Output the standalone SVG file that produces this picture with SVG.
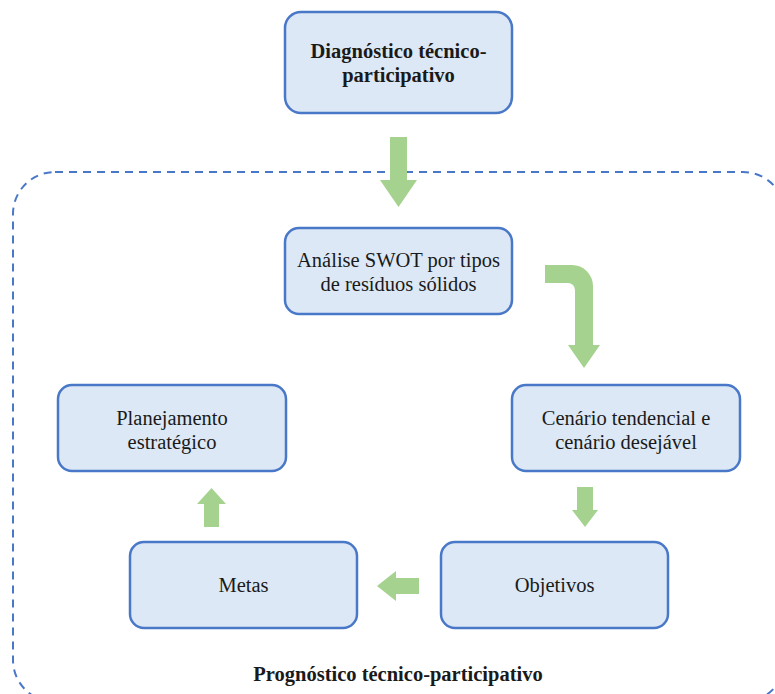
<svg xmlns="http://www.w3.org/2000/svg" width="775" height="694" viewBox="0 0 775 694">
<style>
.box{fill:#dce8f5;stroke:#4a78c8;stroke-width:2.5}
.t{font-family:'Liberation Serif','DejaVu Serif',serif;font-size:20.5px;fill:#1a1a1a;text-anchor:middle}
.b{font-weight:bold}
.arr{fill:#a5d38f}
</style>
<rect x="13" y="172" width="772" height="530" rx="42" fill="none" stroke="#4a78c8" stroke-width="2" stroke-dasharray="8,6"/>
<g id="connectors">
<polygon class="arr" points="390,137 407,137 407,180 417,180 398.5,207 380,180 390,180"/>
<path class="arr" d="M545,265 H572 A21,21 0 0 1 593,286 V345 H600 L584,368 L568,345 H575 V290 A7,7 0 0 0 568,283 H545 Z"/>
<polygon class="arr" points="577,487 593,487 593,510 598,510 585,527 572,510 577,510"/>
<polygon class="arr" points="419,578 419,594 396,594 396,601 377,586 396,571 396,578"/>
<polygon class="arr" points="204,527 219,527 219,504 226,504 211.5,488 197,504 204,504"/>
</g>
<g id="diagnostico">
<rect class="box" x="285" y="12" width="227" height="101" rx="16"/>
<text class="t b" x="398.5" y="58">Diagnóstico técnico-</text>
<text class="t b" x="398.5" y="82">participativo</text>
</g>
<g id="swot">
<rect class="box" x="285" y="228" width="227" height="86" rx="14"/>
<text class="t" x="398.5" y="267">Análise SWOT por tipos</text>
<text class="t" x="398.5" y="291">de resíduos sólidos</text>
</g>
<g id="cenario">
<rect class="box" x="512" y="385" width="228" height="86" rx="14"/>
<text class="t" x="626" y="425">Cenário tendencial e</text>
<text class="t" x="626" y="449">cenário desejável</text>
</g>
<g id="planejamento">
<rect class="box" x="58" y="385" width="228" height="86" rx="14"/>
<text class="t" x="172" y="425">Planejamento</text>
<text class="t" x="172" y="449">estratégico</text>
</g>
<g id="objetivos">
<rect class="box" x="441" y="542" width="227" height="86" rx="14"/>
<text class="t" x="554.5" y="592">Objetivos</text>
</g>
<g id="metas">
<rect class="box" x="130" y="542" width="227" height="86" rx="14"/>
<text class="t" x="243.5" y="592">Metas</text>
</g>
<g id="prognostico">
<text class="t b" x="398" y="681">Prognóstico técnico-participativo</text>
</g>
</svg>
